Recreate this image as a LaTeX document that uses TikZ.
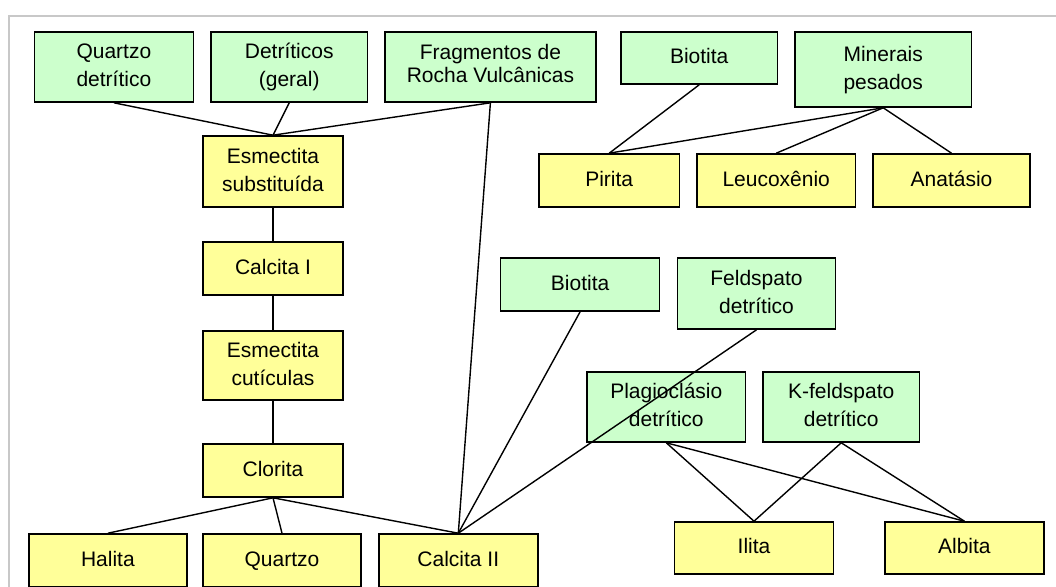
\documentclass[tikz,border=0pt]{standalone}
\usepackage{fontspec}
\setmainfont{Liberation Sans}
\definecolor{gfill}{HTML}{CCFFCC}
\definecolor{yfill}{HTML}{FFFF99}
\definecolor{framegray}{HTML}{C8C8C8}
\begin{document}
\begin{tikzpicture}[x=1pt,y=-1pt,
  box/.style={draw=black, line width=1.6pt, rectangle, inner sep=0pt, align=center,
    font=\fontsize{21}{28}\selectfont, text height=11pt, text depth=0pt},
  gbox/.style={box, fill=gfill},
  ybox/.style={box, fill=yfill},
  two/.style={text height=39pt, text depth=0pt},
  conn/.style={draw=black, line width=1.4pt}]
\useasboundingbox (0,0) rectangle (1056,586);
\draw[framegray, line width=1.6pt] (9,600) -- (9,16) -- (1070,16);
% top row
\node[gbox, two, minimum width=158.9, minimum height=70] (qd) at (113.9,67) {Quartzo\\detrítico};
\node[gbox, two, minimum width=156.5, minimum height=70] (dg) at (289.2,67) {Detríticos\\(geral)};
\node[gbox, font=\fontsize{21}{23.4}\selectfont, text height=31.4pt, text depth=0pt, minimum width=210.8, minimum height=70] (frag) at (490.4,67) {Fragmentos de\\Rocha Vulcânicas};
\node[gbox, minimum width=156.9, minimum height=52] (bio1) at (699.2,58) {Biotita};
\node[gbox, two, minimum width=176.7, minimum height=75] (minp) at (883.2,69.5) {Minerais\\pesados};
% second row
\node[ybox, two, minimum width=140.5, minimum height=71] (es) at (273,171.5) {Esmectita\\substituída};
\node[ybox, minimum width=140.7, minimum height=53] (pir) at (609.2,180.5) {Pirita};
\node[ybox, minimum width=158.4, minimum height=53] (leu) at (776.2,180.5) {Leucoxênio};
\node[ybox, minimum width=157, minimum height=53] (ana) at (951.5,180.5) {Anatásio};
% middle
\node[ybox, minimum width=140.5, minimum height=53] (cal1) at (273,268.5) {Calcita I};
\node[gbox, minimum width=159, minimum height=53] (bio2) at (580.1,284.5) {Biotita};
\node[gbox, two, minimum width=158.3, minimum height=71] (feld) at (756.5,293.5) {Feldspato\\detrítico};
\node[ybox, two, minimum width=140.5, minimum height=69] (esc) at (273,365.5) {Esmectita\\cutículas};
\node[gbox, two, minimum width=158.7, minimum height=70] (plag) at (666.3,407) {Plagioclásio\\detrítico};
\node[gbox, two, minimum width=156.5, minimum height=70] (kf) at (841.2,407) {K-feldspato\\detrítico};
\node[ybox, minimum width=140.5, minimum height=53] (clo) at (273,470.5) {Clorita};
% bottom
\node[ybox, minimum width=158.4, minimum height=53] (hal) at (107.9,560.5) {Halita};
\node[ybox, minimum width=158.5, minimum height=53] (qz) at (282,560.5) {Quartzo};
\node[ybox, minimum width=158.8, minimum height=53] (cal2) at (458.3,560.5) {Calcita II};
\node[ybox, minimum width=158.7, minimum height=52] (ili) at (754,548) {Ilita};
\node[ybox, minimum width=159.1, minimum height=52] (alb) at (964.4,548) {Albita};
% connectors
\draw[conn] (qd.south) -- (es.north);
\draw[conn] (dg.south) -- (es.north);
\draw[conn] (frag.south) -- (es.north);
\draw[conn] (frag.south) -- (cal2.north);
\draw[conn] (es.south) -- (cal1.north);
\draw[conn] (cal1.south) -- (esc.north);
\draw[conn] (esc.south) -- (clo.north);
\draw[conn] (clo.south) -- (hal.north);
\draw[conn] (clo.south) -- (qz.north);
\draw[conn] (clo.south) -- (cal2.north);
\draw[conn] (bio2.south) -- (cal2.north);
\draw[conn] (feld.south) -- (cal2.north);
\draw[conn] (bio1.south) -- (pir.north);
\draw[conn] (minp.south) -- (pir.north);
\draw[conn] (minp.south) -- (leu.north);
\draw[conn] (minp.south) -- (ana.north);
\draw[conn] (plag.south) -- (ili.north);
\draw[conn] (plag.south) -- (alb.north);
\draw[conn] (kf.south) -- (ili.north);
\draw[conn] (kf.south) -- (alb.north);
\end{tikzpicture}
\end{document}
